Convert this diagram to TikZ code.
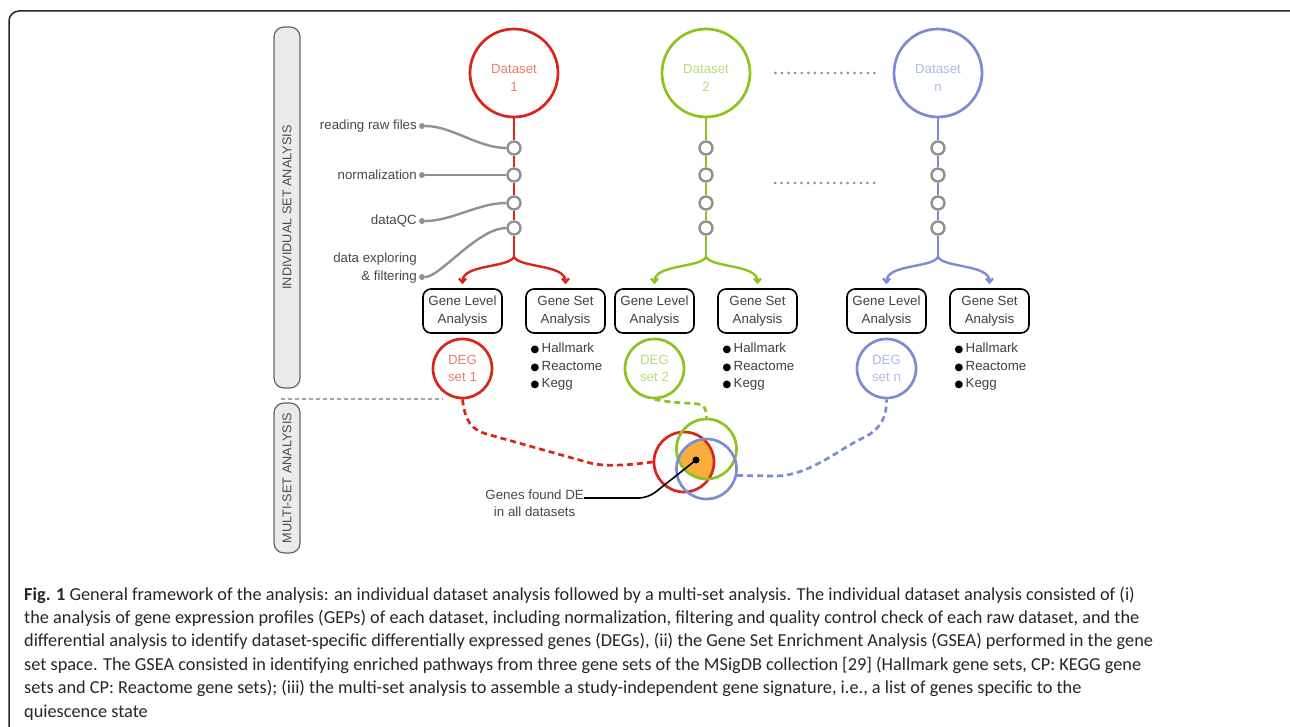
\documentclass[tikz,border=0pt]{standalone}
\usepackage{fontspec}
\setmainfont{Liberation Sans}
\newfontfamily\capfont{Carlito}
\newfontfamily\symfont{DejaVu Sans}
\usetikzlibrary{arrows.meta,positioning}
\definecolor{dsred}{RGB}{216,38,27}
\definecolor{dsgreen}{RGB}{141,194,31}
\definecolor{dsblue}{RGB}{123,140,211}
\definecolor{stepgray}{RGB}{145,145,145}
\definecolor{vennfill}{RGB}{248,174,58}
\newcommand\dropstrut{\rule{0pt}{19.5pt}}
\newcommand\listdot{\textcolor{black}{{\symfont\fontsize{10}{10}\selectfont ●}}}
\tikzset{
  dataset/.style={circle, draw=#1, line width=2.7pt, minimum size=88pt, inner sep=0pt, align=center},
  degset/.style={circle, draw=#1, line width=2.7pt, minimum size=59pt, inner sep=0pt, align=center},
  vennset/.style={circle, draw=#1, line width=2.7pt, minimum size=60pt, inner sep=0pt},
  stepnode/.style={circle, draw=stepgray, fill=white, line width=2.4pt, minimum size=13pt, inner sep=0pt},
  stepdot/.style={circle, fill=stepgray, minimum size=6pt, inner sep=0pt},
  steplink/.style={draw=stepgray, line width=2.4pt},
  flow/.style={line width=2.8pt},
  branch/.style={line width=2.4pt, -{Straight Barb[length=4pt,width=7pt]}, shorten >=4pt},
  setlink/.style={line width=2.7pt, dash pattern=on 6pt off 4pt},
  dotline/.style={stepgray, line width=3pt, line cap=round, dash pattern=on 0pt off 6.6pt},
  anabox/.style={draw, rounded corners=8pt, line width=1.6pt, minimum width=79pt, minimum height=44pt, align=center, inner sep=1pt, text=black!75},
  setlist/.style={align=left, inner sep=0pt, text=black!75},
  sidebar/.style={rotate=90, draw=black!60, fill=black!8, line width=1.2pt, rounded corners=10pt, minimum height=26pt, inner sep=0pt, text=black!70, font=\fontsize{12.7}{14}\selectfont},
  capline/.style={anchor=base west, inner sep=0pt, text=black!85, font=\capfont\fontsize{18.3}{20}\selectfont}
}
\begin{document}
\begin{tikzpicture}[x=1pt, y=-1pt, font=\fontsize{13.3}{17.5}\selectfont]
\useasboundingbox (0,0) rectangle (1290,727);
\draw[line width=1.5pt, black!85, rounded corners=10pt] (9,760) |- (1310,11);

\node[sidebar, minimum width=361pt] (indiv) at (287,207.5) {INDIVIDUAL SET ANALYSIS};
\node[sidebar, minimum width=150pt] (multi) at (287,478) {MULTI-SET ANALYSIS};
\coordinate (sep) at (281,399);
\draw[black!35, line width=1.3pt, dash pattern=on 4pt off 3pt] (sep) -- ++(162,0);

\foreach \i/\x/\c in {1/514/dsred, 2/706/dsgreen, n/938/dsblue}{
  \node[dataset=\c, text=\c!60!white] (ds\i) at (\x,73) {\dropstrut Dataset\\\i};
  \foreach \k/\y in {1/148, 2/175, 3/203, 4/228}
    \node[stepnode] (s\i\k) at (\x,\y) {};
  \coordinate (br\i) at (\x,257);
  \draw[\c, flow] (ds\i) -- (s\i1) -- (s\i2) -- (s\i3) -- (s\i4) -- (br\i);
  \node[anabox] (gl\i) at ({\x-51.5},311) {Gene Level\\Analysis};
  \node[anabox] (gs\i) at ({\x+51.5},311) {Gene Set\\Analysis};
  \draw[\c, branch] (br\i) .. controls +(-6,11) and +(0,-24) .. (gl\i.north);
  \draw[\c, branch] (br\i) .. controls +(6,11) and +(0,-24) .. (gs\i.north);
  \node[degset=\c, text=\c!60!white] (deg\i) at ({\x-51.5},368.5) {DEG\\set \i};
  \node[setlist, anchor=west] (list\i) at ({\x+51.5-35},367) {\listdot\,Hallmark\\\listdot\,Reactome\\\listdot\,Kegg};
}

\draw[dotline, shorten <=24pt, shorten >=18pt] (ds2) -- (dsn);
\coordinate (gapl) at (775,183);
\coordinate (gapr) at (875,183);
\draw[dotline] (gapl) -- (gapr);

\foreach \k/\y/\t in {1/126/reading raw files, 2/175/normalization, 3/221/dataQC}{
  \node[anchor=east, inner sep=0pt, text=black!72] (lab\k) at (417,\y) {\t};
  \node[stepdot] (gd\k) at (422,\y) {};
}
\node[anchor=east, align=right, inner sep=0pt, text=black!72] (lab4) at (417,268) {data exploring\\\& filtering};
\node[stepdot] (gd4) at (422,277) {};
\draw[steplink] (gd1) .. controls (452,126) and (478,148) .. (s11);
\draw[steplink] (gd2) -- (s12);
\draw[steplink] (gd3) .. controls (452,221) and (478,203) .. (s13);
\draw[steplink] (gd4) .. controls (440,277) and (478,228) .. (s14);

\begin{scope}
  \clip (684,462) circle (30pt);
  \clip (706.5,449) circle (30pt);
  \fill[vennfill] (706.5,469) circle (30pt);
\end{scope}
\node[vennset=dsred] (vr) at (684,462) {};
\node[vennset=dsgreen] (vg) at (706.5,449) {};
\node[vennset=dsblue] (vb) at (706.5,469) {};
\node[circle, fill=black, minimum size=7pt, inner sep=0pt] (vdot) at (696,460) {};

\draw[dsred, setlink] (deg1.south) .. controls (465,420) and (470,430) .. (490,435) -- (590,463) .. controls (605,467) and (630,465) .. (vr.west);
\draw[dsgreen, setlink] (deg2.south) .. controls (672,403) and (690,403) .. (698,404) .. controls (705,405) and (706.5,410) .. (vg.north);
\draw[dsblue, setlink] (vb.-12) -- (775,476) .. controls (810,476) and (840,448) .. (865,437) .. controls (882,428) and (887,415) .. (degn.south);

\node[align=center, anchor=east, inner sep=0pt, text=black!72] (delbl) at (584,503) {Genes found DE\\in all datasets};
\coordinate (deend) at (584,498);
\draw[line width=1.6pt, rounded corners=9pt] (vdot.center) -- (648,498) -- (deend);

\node[capline] (cap1) at (24,600) {\textbf{Fig. 1} General framework of the analysis: an individual dataset analysis followed by a multi-set analysis. The individual dataset analysis consisted of (i)};
\node[capline] (cap2) at (24,623.4) {the analysis of gene expression profiles (GEPs) of each dataset, including normalization, filtering and quality control check of each raw dataset, and the};
\node[capline] (cap3) at (24,646.8) {differential analysis to identify dataset-specific differentially expressed genes (DEGs), (ii) the Gene Set Enrichment Analysis (GSEA) performed in the gene};
\node[capline] (cap4) at (24,670.2) {set space. The GSEA consisted in identifying enriched pathways from three gene sets of the MSigDB collection [29] (Hallmark gene sets, CP: KEGG gene};
\node[capline] (cap5) at (24,693.6) {sets and CP: Reactome gene sets); (iii) the multi-set analysis to assemble a study-independent gene signature, i.e., a list of genes specific to the};
\node[capline] (cap6) at (24,717) {quiescence state};
\end{tikzpicture}
\end{document}
